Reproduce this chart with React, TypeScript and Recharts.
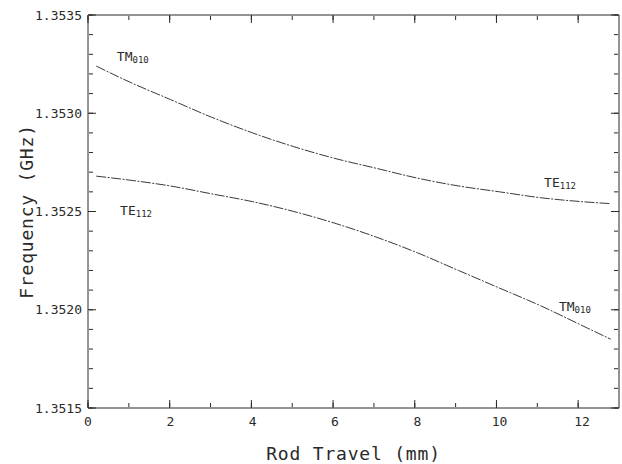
import { LineChart, Line, XAxis, YAxis, ReferenceDot } from 'recharts';

const INK = '#2a2a2a';
const CURVE = '#3a3a3a';
const MONO = '"DejaVu Sans Mono", monospace';

// rod travel (mm) where the curves were read
const ROD_TRAVEL = [0.2, 1, 2, 3, 4, 5, 6, 7, 8, 9, 10, 11, 12, 12.7];
// upper branch: TM010 at the left, TE112 at the right
const UPPER = [1.35324, 1.35316, 1.35307, 1.35298, 1.3529, 1.35283, 1.35277, 1.35272, 1.35267, 1.35263, 1.3526, 1.35257, 1.35255, 1.35254];
// lower branch: TE112 at the left, TM010 at the right
const LOWER = [1.35268, 1.35266, 1.35263, 1.35259, 1.35255, 1.3525, 1.35244, 1.35237, 1.35229, 1.3522, 1.35211, 1.35202, 1.35192, 1.35185];

const X_DOMAIN = [0, 12.9];
const X_TICKS = [0, 2, 4, 6, 8, 10, 12];
const X_MINOR = [0, 1, 2, 3, 4, 5, 6, 7, 8, 9, 10, 11, 12];
const Y_DOMAIN = [1.3515, 1.3535];
const Y_TICKS = [1.3515, 1.352, 1.3525, 1.353, 1.3535];
const Y_MINOR = [
  1.3515, 1.3516, 1.3517, 1.3518, 1.3519, 1.352, 1.3521, 1.3522, 1.3523, 1.3524, 1.3525,
  1.3526, 1.3527, 1.3528, 1.3529, 1.353, 1.3531, 1.3532, 1.3533, 1.3534, 1.3535,
];

const MODE_LABELS = [
  { x: 0.7, y: 1.35329, main: 'TM', sub: '010' },
  { x: 0.78, y: 1.35251, main: 'TE', sub: '112' },
  { x: 11.08, y: 1.35265, main: 'TE', sub: '112' },
  { x: 11.44, y: 1.35202, main: 'TM', sub: '010' },
];

const rows = ROD_TRAVEL.map((x, i) => ({ x, upper: UPPER[i], lower: LOWER[i] }));

const tickFont = { fontFamily: MONO, fontSize: 13, fill: INK };
const NoLabel = () => <g />;

const ModeLabel = ({ cx, cy, main, sub }: { cx?: number; cy?: number; main: string; sub: string }) => (
  <text x={cx} y={cy} fontFamily={MONO} fontSize={13} fill={INK} dominantBaseline="central">
    <tspan>{main}</tspan>
    <tspan fontSize={9} dy={4}>{sub}</tspan>
  </text>
);

const XTitle = ({ viewBox }: any) => (
  <text
    x={viewBox.x + viewBox.width / 2}
    y={viewBox.y + 52}
    textAnchor="middle"
    fontFamily={MONO}
    fontSize={18}
    letterSpacing={0.8}
    fill={INK}
  >
    Rod Travel (mm)
  </text>
);

const YTitle = ({ viewBox }: any) => {
  const cx = 26;
  const cy = viewBox.y + viewBox.height / 2;
  return (
    <text
      x={cx}
      y={cy}
      transform={`rotate(-90 ${cx} ${cy})`}
      textAnchor="middle"
      dominantBaseline="central"
      fontFamily={MONO}
      fontSize={18}
      letterSpacing={0.8}
      fill={INK}
    >
      Frequency (GHz)
    </text>
  );
};

// inward tick marks drawn by mirrored helper axes (size 1 so they still render)
const xHelper = (id: string, orientation: 'top' | 'bottom', ticks: number[], size: number, line: boolean) => (
  <XAxis
    key={id}
    xAxisId={id}
    type="number"
    domain={X_DOMAIN}
    allowDataOverflow
    orientation={orientation}
    mirror
    height={1}
    ticks={ticks}
    interval={0}
    tickSize={size}
    tick={NoLabel}
    tickLine={{ stroke: INK }}
    axisLine={line ? { stroke: INK } : false}
  />
);

const yHelper = (id: string, orientation: 'left' | 'right', ticks: number[], size: number, line: boolean) => (
  <YAxis
    key={id}
    yAxisId={id}
    type="number"
    domain={Y_DOMAIN}
    allowDataOverflow
    orientation={orientation}
    mirror
    width={1}
    ticks={ticks}
    interval={0}
    tickSize={size}
    tick={NoLabel}
    tickLine={{ stroke: INK }}
    axisLine={line ? { stroke: INK } : false}
  />
);

export default function App() {
  return (
    <div style={{ position: 'absolute', left: 0, top: 0, background: '#fff' }}>
      <LineChart width={622} height={464} data={rows} margin={{ top: 15, right: 3, bottom: 0, left: 0 }}>
        <XAxis
          xAxisId="x"
          dataKey="x"
          type="number"
          domain={X_DOMAIN}
          allowDataOverflow
          ticks={X_TICKS}
          interval={0}
          tickSize={0}
          tickMargin={9}
          height={56}
          tick={tickFont}
          axisLine={{ stroke: INK }}
          label={{ content: <XTitle /> }}
        />
        <YAxis
          yAxisId="y"
          type="number"
          domain={Y_DOMAIN}
          allowDataOverflow
          ticks={Y_TICKS}
          interval={0}
          tickFormatter={(v: number) => v.toFixed(4)}
          tickSize={0}
          tickMargin={6}
          width={88}
          tick={tickFont}
          axisLine={{ stroke: INK }}
          label={{ content: <YTitle /> }}
        />
        {xHelper('xMajB', 'bottom', X_TICKS, 8, false)}
        {xHelper('xMinB', 'bottom', X_MINOR, 4, false)}
        {xHelper('xMajT', 'top', X_TICKS, 8, true)}
        {xHelper('xMinT', 'top', X_MINOR, 4, false)}
        {yHelper('yMajL', 'left', Y_TICKS, 8, false)}
        {yHelper('yMinL', 'left', Y_MINOR, 4, false)}
        {yHelper('yMajR', 'right', Y_TICKS, 8, true)}
        {yHelper('yMinR', 'right', Y_MINOR, 4, false)}
        <Line
          xAxisId="x"
          yAxisId="y"
          type="monotone"
          dataKey="upper"
          stroke={CURVE}
          strokeWidth={1}
          strokeDasharray="10 1.5 2 1.5"
          dot={false}
          isAnimationActive={false}
        />
        <Line
          xAxisId="x"
          yAxisId="y"
          type="monotone"
          dataKey="lower"
          stroke={CURVE}
          strokeWidth={1}
          strokeDasharray="10 1.5 2 1.5"
          dot={false}
          isAnimationActive={false}
        />
        {MODE_LABELS.map((m, i) => (
          <ReferenceDot
            key={i}
            xAxisId="x"
            yAxisId="y"
            x={m.x}
            y={m.y}
            r={0}
            shape={(p: any) => <ModeLabel cx={p.cx} cy={p.cy} main={m.main} sub={m.sub} />}
          />
        ))}
      </LineChart>
    </div>
  );
}
